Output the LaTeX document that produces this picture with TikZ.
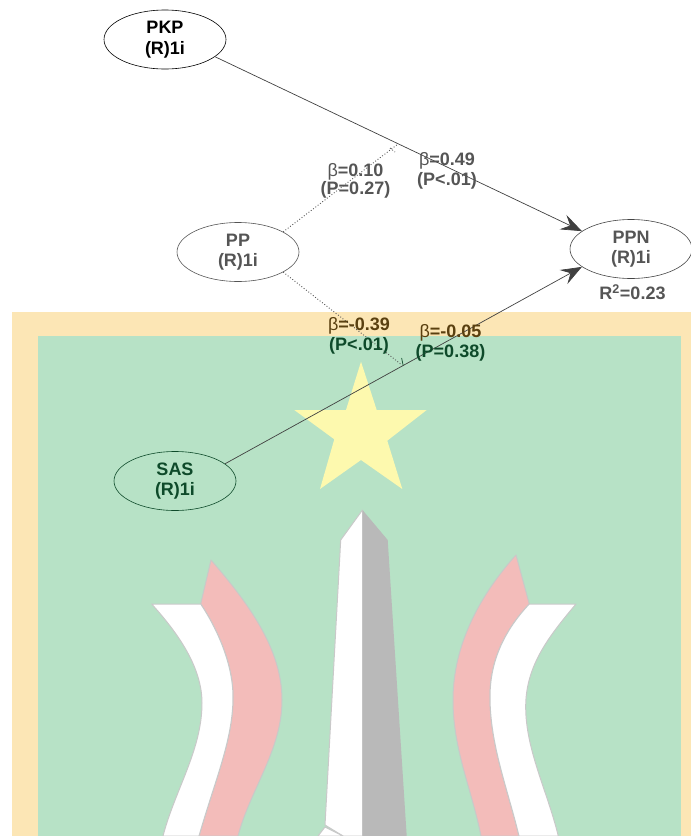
\documentclass[tikz,border=0pt]{standalone}
\usepackage{fontspec}
\setmainfont{Liberation Sans}
\usetikzlibrary{arrows.meta,shapes.geometric}
\definecolor{wmgreen}{HTML}{B7E2C6}
\definecolor{wmband}{HTML}{FCE6B5}
\definecolor{wmpink}{HTML}{F3BCBA}
\definecolor{wmgray}{HTML}{B9B9B9}
\definecolor{wmstar}{HTML}{FDF9AE}
\definecolor{wmedge}{HTML}{C9C9C9}
\definecolor{txgray}{HTML}{555555}
\definecolor{txbrown}{HTML}{5A4010}
\definecolor{txgreen}{HTML}{0E4A2A}
\newcommand{\bet}{{\mdseries β}}
\tikzset{
  x=1pt,y=-1pt,
  wing/.style={draw=wmedge,line width=1pt,line join=round},
  latent/.style={ellipse,draw,line width=.6pt,minimum width=122pt,minimum height=59pt,inner sep=0pt,align=center,
    font=\fontsize{18}{20.5}\selectfont\bfseries},
  coef/.style={inner sep=0pt,align=center,font=\fontsize{18}{20}\selectfont\bfseries},
  pathline/.style={line width=.7pt,-{Stealth[length=21pt,width=16pt,inset=8pt]}},
  medline/.style={line width=.9pt,dotted},
}
\begin{document}
\begin{tikzpicture}
\useasboundingbox (0,0) rectangle (691,836);
\clip (0,0) rectangle (691,836);
% watermark
\fill[wmband] (12,312) rectangle (691,836);
\fill[wmgreen] (38,336) rectangle (681,836);
\fill[wmstar] (361,361.7) -- (376.7,410) -- (426.7,410) -- (387.3,440.7) -- (402.3,489) -- (361,460) -- (320,489) -- (334.3,439.3) -- (294.3,410) -- (346,410) -- cycle;
% left pink and white
\path[wing,fill=wmpink] (211,560) .. controls (250,605) and (282,650) .. (282,700) .. controls (282,750) and (250,790) .. (238,836) -- (199,836) .. controls (215,780) and (233,740) .. (233,697) .. controls (233,665) and (218,630) .. (200.7,604) -- cycle;
\path[wing,fill=white] (151.7,604) -- (200.7,604) .. controls (218,630) and (233,665) .. (233,697) .. controls (233,740) and (215,780) .. (199,836) -- (163,836) .. controls (175,790) and (202,750) .. (202,703) .. controls (202,665) and (175,630) .. (151.7,604) -- cycle;
% right pink and white
\path[wing,fill=wmpink] (516,555) .. controls (480,595) and (453,645) .. (453,700) .. controls (453,750) and (472,790) .. (481,836) -- (519,836) .. controls (508,790) and (490,745) .. (490,697) .. controls (490,660) and (505,630) .. (529.3,604) -- cycle;
\path[wing,fill=white] (529.3,604) -- (576,604) .. controls (550,635) and (525.7,665) .. (525.7,706.7) .. controls (525.7,750) and (547,790) .. (558.3,836) -- (519,836) .. controls (508,790) and (490,745) .. (490,697) .. controls (490,660) and (505,630) .. (529.3,604) -- cycle;
% obelisk
\path[wing,fill=white] (362.5,510) -- (340.7,540) -- (325,825) -- (343,836) -- (362.5,836) -- cycle;
\fill[wmgray] (362.5,510) -- (387.7,540) -- (406.7,836) -- (362.5,836) -- cycle;
\path[wing,fill=white] (325,827) -- (318,836) -- (343,836) -- cycle;
% nodes
\node[latent,draw=black,text=black] (PKP) at (165,39.5) {PKP\\(R)1i};
\node[latent,draw=txgray,text=txgray] (PP) at (238,252) {PP\\(R)1i};
\node[latent,draw=txgray!80!black,text=txgray] (PPN) at (631,249) {PPN\\(R)1i};
\node[latent,draw=txgreen,text=txgreen] (SAS) at (175,481) {SAS\\(R)1i};
\coordinate (m1) at (398,144);
\coordinate (m2) at (402,365);
\coordinate (t1) at (401.6,358);
\coordinate (t2) at (403.2,365.5);
\coordinate (d1) at (390,148);
\coordinate (d2) at (395,152);
% connectors
\draw[pathline,draw=black!75,color=black!75] (PKP.-19) -- (PPN.160);
\draw[pathline,draw=txgreen!70!black,color=black!75] (SAS.19) -- (PPN.200);
\draw[medline,draw=txgray] (PP.24) -- (m1);
\draw[medline,draw=txgray] (PP.-24) -- (m2);
\draw[line width=.7pt,draw=txgreen] (t1) -- (t2);
\draw[medline,draw=txgray] (d1) -- (d2);
% labels
\node[coef,text=txgray] (l1) at (355.5,180.5) {\bet=0.10\\[-2pt](P=0.27)};
\node[coef,text=txgray] (l2) at (447,171) {\bet=0.49\\(P<.01)};
\node[coef] (l3) at (359,336) {\textcolor{txbrown}{\bet=-0.39}\\\textcolor{txgreen}{(P<.01)}};
\node[coef] (l4) at (450.5,343) {\textcolor{txbrown}{\bet=-0.05}\\\textcolor{txgreen}{(P=0.38)}};
\node[coef,text=txgray] (r2) at (632.5,292) {R\textsuperscript{2}=0.23};
\end{tikzpicture}
\end{document}
